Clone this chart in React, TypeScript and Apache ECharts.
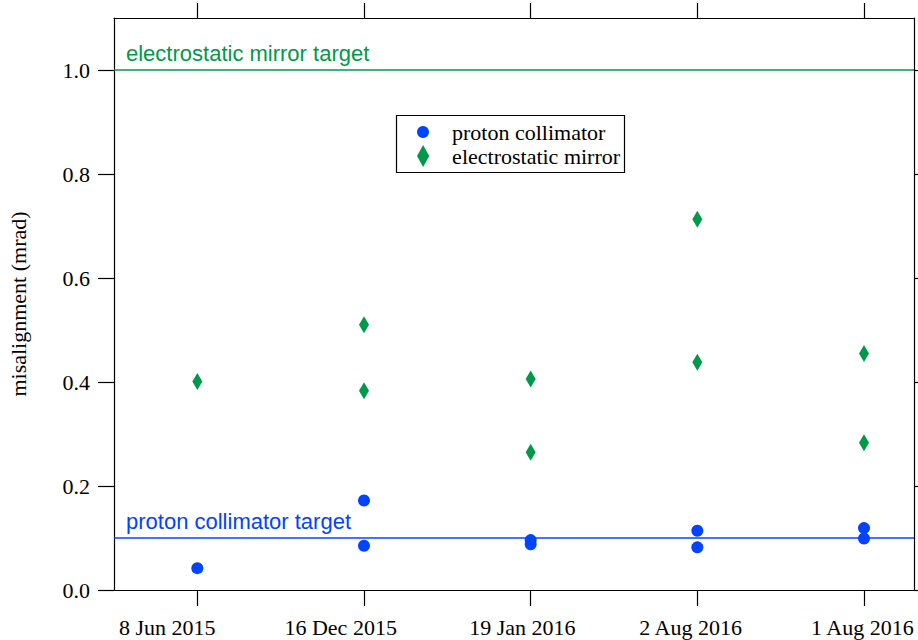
import React, { useEffect, useRef } from "react";
import * as echarts from "echarts";

const categories = ["8 Jun 2015", "16 Dec 2015", "19 Jan 2016", "2 Aug 2016", "1 Aug 2016"];
// label anchor positions (in axis units) as they sit in the reference, slightly off their ticks
const labelPositions = [-0.18, 0.86, 1.95, 2.96, 3.99];
const protonCollimator = [[0.042], [0.172, 0.085], [0.096, 0.088], [0.114, 0.082], [0.119, 0.099]];
const electrostaticMirror = [[0.401], [0.51, 0.383], [0.406, 0.265], [0.713, 0.438], [0.455, 0.283]];
const yTicks = [0, 0.2, 0.4, 0.6, 0.8, 1.0];
const protonTarget = 0.1;
const mirrorTarget = 1.0;

const BLUE = "#0044ff";
const GREEN = "#00994a";
const SERIF = "'Liberation Serif', 'Times New Roman', serif";
const SANS = "'Liberation Sans', Arial, sans-serif";
const DIAMOND = "path://M5,0 L10,9 L5,18 L0,9 Z";

const toPairs = (groups: number[][]) =>
  groups.flatMap((vals, i) => vals.map((v) => [i, v]));

export default function App() {
  const ref = useRef<HTMLDivElement>(null);
  useEffect(() => {
    if (!ref.current) return;
    const chart = echarts.init(ref.current, undefined, { renderer: "svg" });
    const xIdx = categories.map((_, i) => i);
    const axisLine = { show: true, onZero: false, lineStyle: { color: "#000", width: 1.2 } };
    const option: any = {
      animation: false,
      backgroundColor: "#fff",
      grid: { left: 114, right: 4, top: 18, bottom: 50, outerBoundsMode: "none" },
      xAxis: [
        {
          type: "value",
          position: "bottom",
          min: -0.5,
          max: 4.3,
          axisLine,
          splitLine: { show: false },
          axisTick: { show: true, inside: false, length: 16, customValues: xIdx, lineStyle: { color: "#000", width: 1.2 } },
          axisLabel: {
            show: true,
            customValues: labelPositions,
            formatter: (v: number) => categories[Math.round(v)] ?? "",
            fontFamily: SERIF,
            fontSize: 22,
            color: "#000",
            margin: 26,
            hideOverlap: false,
          },
        },
        {
          type: "value",
          position: "top",
          min: -0.5,
          max: 4.3,
          axisLine,
          splitLine: { show: false },
          axisTick: { show: true, inside: false, length: 15, customValues: xIdx, lineStyle: { color: "#000", width: 1.2 } },
          axisLabel: { show: false },
        },
      ],
      yAxis: [
        {
          type: "value",
          position: "left",
          min: 0,
          max: 1.1,
          axisLine,
          splitLine: { show: false },
          axisTick: { show: true, inside: false, length: 16, customValues: yTicks, lineStyle: { color: "#000", width: 1.2 } },
          axisLabel: {
            show: true,
            customValues: yTicks,
            formatter: (v: number) => v.toFixed(1),
            fontFamily: SERIF,
            fontSize: 22,
            color: "#000",
            margin: 24,
          },
          name: "misalignment (mrad)",
          nameLocation: "middle",
          nameGap: 85,
          nameRotate: 90,
          nameTextStyle: { fontFamily: SERIF, fontSize: 22, color: "#000" },
        },
        {
          type: "value",
          position: "right",
          min: 0,
          max: 1.1,
          axisLine,
          splitLine: { show: false },
          axisTick: { show: true, inside: false, length: 16, customValues: yTicks, lineStyle: { color: "#000", width: 1.2 } },
          axisLabel: { show: false },
        },
      ],
      legend: [
        {
          data: ["proton collimator"],
          left: 417,
          top: 121,
          padding: 0,
          itemWidth: 48,
          itemHeight: 12,
          icon: "circle",
          textStyle: { fontFamily: SERIF, fontSize: 22, color: "#000" },
        },
        {
          data: ["electrostatic mirror"],
          left: 417,
          top: 145,
          padding: 0,
          itemWidth: 48,
          itemHeight: 22,
          icon: DIAMOND,
          textStyle: { fontFamily: SERIF, fontSize: 22, color: "#000" },
        },
      ],
      graphic: [
        {
          type: "rect",
          left: 394,
          top: 113,
          shape: { width: 228, height: 57 },
          style: { fill: "none", stroke: "#000", lineWidth: 1.2 },
          silent: true,
        },
      ],
      series: [
        {
          name: "proton collimator",
          type: "scatter",
          xAxisIndex: 0,
          yAxisIndex: 0,
          symbol: "circle",
          symbolSize: 12,
          itemStyle: { color: BLUE, opacity: 1 },
          data: toPairs(protonCollimator),
          z: 3,
          markLine: {
            silent: true,
            symbol: "none",
            lineStyle: { color: BLUE, width: 1.5, type: "solid" },
            label: {
              show: true,
              position: "insideStartTop",
              formatter: "proton collimator target",
              fontFamily: SANS,
              fontSize: 22,
              color: BLUE,
              distance: [12, 6],
            },
            data: [{ yAxis: protonTarget }],
          },
        },
        {
          name: "electrostatic mirror",
          type: "scatter",
          xAxisIndex: 0,
          yAxisIndex: 0,
          symbol: DIAMOND,
          symbolSize: [10, 17],
          symbolKeepAspect: false,
          itemStyle: { color: GREEN, opacity: 1 },
          data: toPairs(electrostaticMirror),
          z: 3,
          markLine: {
            silent: true,
            symbol: "none",
            lineStyle: { color: GREEN, width: 1.5, type: "solid" },
            label: {
              show: true,
              position: "insideStartTop",
              formatter: "electrostatic mirror target",
              fontFamily: SANS,
              fontSize: 22,
              color: GREEN,
              distance: [12, 6],
            },
            data: [{ yAxis: mirrorTarget }],
          },
        },
      ],
    };
    chart.setOption(option);
    return () => chart.dispose();
  }, []);
  return (
    <div
      ref={ref}
      style={{ position: "fixed", left: 0, top: 0, width: 918, height: 640, background: "#fff" }}
    />
  );
}
